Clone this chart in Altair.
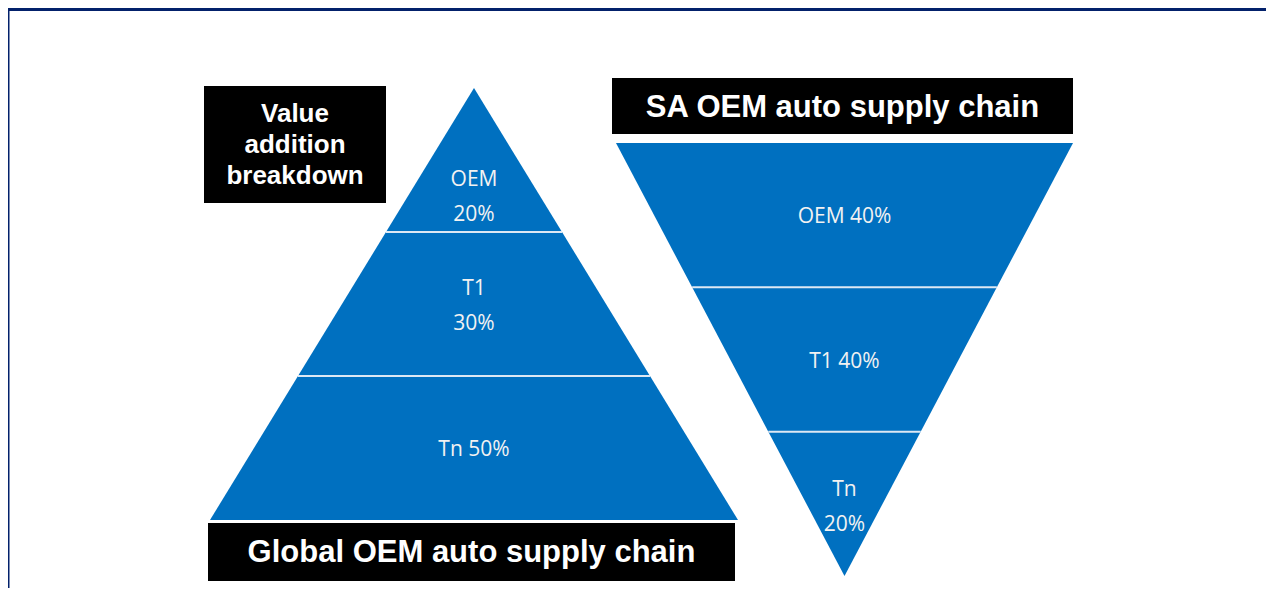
import altair as alt
import pandas as pd

# ---- data ----
global_tiers = ["OEM", "T1", "Tn"]
global_shares = ["20%", "30%", "50%"]
global_wrap = [True, True, False]          # label split over two lines
sa_tiers = ["OEM", "T1", "Tn"]
sa_shares = ["40%", "40%", "20%"]
sa_wrap = [False, False, True]

title_global = "Global OEM auto supply chain"
title_sa = "SA OEM auto supply chain"
title_value = ["Value", "addition", "breakdown"]

# ---- layout (page pixel coordinates) ----
BLUE = "#0070C0"
NAVY = "#03216B"
W, H = 1258, 580
OX, OY = 8, 8
SEG_LH = 35      # line height of tier labels
TITLE_LH = 31    # line height of the small title box
TXT_DY = 2       # small vertical nudge for text baseline

# upright pyramid: apex (cx, apex_y), base at base_y with half width hw
PYR = dict(cx=474, apex_y=88, base_y=520, hw=264, label_pos=[0.745, 0.5, 0.5])
# inverted pyramid: top edge at top_y with half width hw, apex at apex_y
INV = dict(cx=844.5, top_y=143, apex_y=576, hw=228.5, label_pos=[0.5, 0.5, 0.51])

seg_rows, div_rows, lab_rows = [], [], []


def add_lines(x, yc, lines, lh, rows):
    k = len(lines)
    for j, ln in enumerate(lines):
        rows.append(dict(x=x, y=yc + TXT_DY + (j - (k - 1) / 2) * lh, text=ln))


def half_up(y):
    return PYR["hw"] * (y - PYR["apex_y"]) / (PYR["base_y"] - PYR["apex_y"])


def half_inv(y):
    return INV["hw"] * (INV["apex_y"] - y) / (INV["apex_y"] - INV["top_y"])


n = len(global_tiers)
h_up = (PYR["base_y"] - PYR["apex_y"]) / n
for i, (t, s, wr) in enumerate(zip(global_tiers, global_shares, global_wrap)):
    y0 = PYR["apex_y"] + i * h_up
    y1 = y0 + h_up
    for y in (y0, y1):
        hw = half_up(y)
        seg_rows.append(dict(seg=f"g{i}", y=y, xl=PYR["cx"] - hw, xr=PYR["cx"] + hw))
    if i > 0:
        hw = half_up(y0)
        div_rows.append(dict(y=y0, xl=PYR["cx"] - hw, xr=PYR["cx"] + hw))
    add_lines(PYR["cx"], y0 + PYR["label_pos"][i] * h_up,
              [t, s] if wr else [f"{t} {s}"], SEG_LH, lab_rows)

n2 = len(sa_tiers)
h_inv = (INV["apex_y"] - INV["top_y"]) / n2
for i, (t, s, wr) in enumerate(zip(sa_tiers, sa_shares, sa_wrap)):
    y0 = INV["top_y"] + i * h_inv
    y1 = y0 + h_inv
    for y in (y0, y1):
        hw = half_inv(y)
        seg_rows.append(dict(seg=f"s{i}", y=y, xl=INV["cx"] - hw, xr=INV["cx"] + hw))
    if i > 0:
        hw = half_inv(y0)
        div_rows.append(dict(y=y0, xl=INV["cx"] - hw, xr=INV["cx"] + hw))
    add_lines(INV["cx"], y0 + INV["label_pos"][i] * h_inv,
              [t, s] if wr else [f"{t} {s}"], SEG_LH, lab_rows)

segs = pd.DataFrame(seg_rows)
divs = pd.DataFrame(div_rows)
labs = pd.DataFrame(lab_rows)

boxes = pd.DataFrame([
    dict(x=204, x2=386, y=86, y2=203),
    dict(x=612, x2=1073, y=78, y2=134),
    dict(x=208, x2=735, y=523, y2=581),
])
frame = pd.DataFrame([
    dict(x=OX, x2=OX + W, y=OY, y2=11),
    dict(x=OX, x2=9.5, y=OY, y2=OY + H),
])
titles_big = pd.DataFrame([
    dict(x=842.5, y=106 + TXT_DY, text=title_sa),
    dict(x=471.5, y=551 + TXT_DY, text=title_global),
])
small_rows = []
add_lines(295, 143, title_value, TITLE_LH, small_rows)
titles_small = pd.DataFrame(small_rows)

xs = alt.Scale(domain=[OX, OX + W], nice=False, zero=False)
ys = alt.Scale(domain=[OY + H, OY], nice=False, zero=False)


def X(f):
    return alt.X(f, type="quantitative", scale=xs, axis=None)


def Y(f):
    return alt.Y(f, type="quantitative", scale=ys, axis=None)


frame_l = alt.Chart(frame).mark_rect(color=NAVY).encode(
    x=X("x"), x2="x2", y=Y("y"), y2="y2")

areas = alt.Chart(segs).mark_area(color=BLUE, orient="horizontal", opacity=1).encode(
    y=Y("y"), x=X("xl"), x2="xr", detail="seg:N")

dividers = alt.Chart(divs).mark_rule(color="#DDE8F4", strokeWidth=2).encode(
    y=Y("y"), x=X("xl"), x2="xr")

seg_text = alt.Chart(labs).mark_text(
    color="#F2F2F2", font="Open Sans", fontSize=21,
    baseline="middle", align="center").encode(x=X("x"), y=Y("y"), text="text:N")

box_l = alt.Chart(boxes).mark_rect(color="black").encode(
    x=X("x"), x2="x2", y=Y("y"), y2="y2")

big_text = alt.Chart(titles_big).mark_text(
    color="white", font="Liberation Sans", fontWeight="bold", fontSize=31,
    baseline="middle", align="center").encode(x=X("x"), y=Y("y"), text="text:N")

small_text = alt.Chart(titles_small).mark_text(
    color="white", font="Liberation Sans", fontWeight="bold", fontSize=26,
    baseline="middle", align="center").encode(
    x=X("x"), y=Y("y"), text="text:N")

chart = alt.layer(frame_l, areas, dividers, seg_text, box_l, big_text, small_text).properties(
    width=W, height=H, autosize=alt.AutoSizeParams(type="none"), padding=0,
    background="white",
).configure_view(stroke=None)

chart.save("out.html", embed_options={"renderer": "svg", "actions": False})
